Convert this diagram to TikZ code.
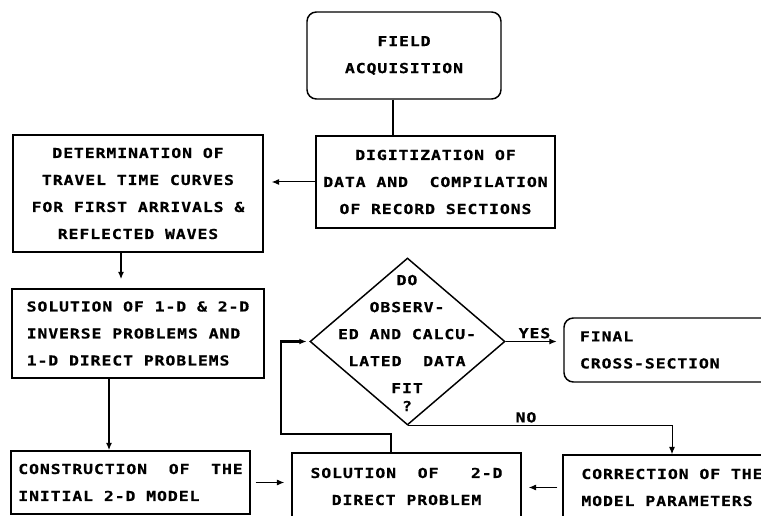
\documentclass[tikz,border=0pt]{standalone}
\usepackage{fontspec}
\newfontfamily\dotfont[FakeStretch=1.2,LetterSpace=6.5,BoldFeatures={FakeBold=0.6}]{DejaVu Sans Mono}
\usetikzlibrary{shapes.geometric,arrows.meta}

\tikzset{every picture/.style={line width=0.75pt}}
\tikzset{
  box/.style={draw, line width=1.1pt, inner ysep=0pt,
    font=\dotfont\bfseries\fontsize{10.3}{20.25}\selectfont},
  decision/.style={draw, diamond, line width=1.1pt, inner sep=0pt},
  txt/.style={align=center, inner sep=0pt,
    font=\dotfont\bfseries\fontsize{10.3}{20.25}\selectfont},
  lbl/.style={inner sep=2pt, font=\dotfont\bfseries\fontsize{10.3}{12}\selectfont},
  arr/.style={-{Latex[length=5.5pt,width=4.5pt]}}
}

\begin{document}
\begin{tikzpicture}[x=0.75pt,y=0.75pt,yscale=-1,xscale=1]
\path[use as bounding box] (0,0) rectangle (761,516);
\clip (0,0) rectangle (761,516);

%Rounded Rect: field acquisition
\node[box, rounded corners=7pt, minimum width=145.5pt, minimum height=65.25pt, align=center] (field) at (404,55.5) {FIELD\\ACQUISITION};
%Rect: digitization
\node[box, minimum width=179.25pt, minimum height=69pt, align=center] (digit) at (435.5,182) {DIGITIZATION OF\\DATA AND\ \ COMPILATION\\OF RECORD SECTIONS};
%Rect: travel time curves
\node[box, minimum width=187.5pt, minimum height=87.75pt, align=center] (determ) at (138,193.5) {DETERMINATION OF\\TRAVEL TIME CURVES\\FOR FIRST ARRIVALS \&\\REFLECTED WAVES};
%Rect: inverse problems
\node[box, minimum width=189pt, minimum height=66.75pt, align=left] (sol1d) at (138,333.5) {SOLUTION OF 1-D \& 2-D\\INVERSE PROBLEMS AND\\1-D DIRECT PROBLEMS};
%Rect: initial model
\node[box, minimum width=179.25pt, minimum height=47.25pt, align=left] (constr) at (130.5,482.5) {CONSTRUCTION\ \ OF\ \ THE\\INITIAL 2-D MODEL};
%Rect: direct problem
\node[box, minimum width=171.75pt, minimum height=50.25pt, align=center] (sol2d) at (406.5,486.5) {SOLUTION\ \ OF\ \ \ 2-D\\DIRECT PROBLEM};
%Rect: correction
\node[box, minimum width=163.5pt, minimum height=48.75pt, align=left] (corr) at (672,487.5) {CORRECTION OF THE\\MODEL PARAMETERS};
%Rounded Rect: final section
\node[box, rounded corners=7pt, text width=156pt, inner xsep=12pt, minimum height=48pt, align=left] (final) at (684,350) {FINAL\\CROSS-SECTION};

%Decision
\node[decision, minimum width=146.25pt, minimum height=125.25pt] (check) at (407.5,341.5) {};
\node[txt] (checktxt) at (407,343) {DO\\OBSERV-\\ED AND CALCU-\\LATED\ \ DATA\\FIT\\[-6.75pt]?};

%Connectors
\draw[line width=2.2pt] ([xshift=-8.25pt]field.south) -- ([xshift=-8.25pt]field.south |- digit.north);
\draw[arr, shorten >=6pt] (digit.west) -- (digit.west -| determ.east);
\draw[arr, line width=2.2pt, shorten >=6.75pt] ([xshift=-12.75pt]determ.south) -- ([xshift=-12.75pt]determ.south |- sol1d.north);
\draw[arr, line width=1.8pt] ([xshift=-21.75pt]sol1d.south) -- ([xshift=-21.75pt]sol1d.south |- constr.north);
\draw[arr, shorten <=3.75pt, shorten >=5.25pt] (constr.east) -- (constr.east -| sol2d.west);
\draw[arr, shorten <=3.75pt, shorten >=5.25pt] (corr.west) -- (corr.west -| sol2d.east);
\draw[arr, shorten >=5pt] (check.east) -- node[lbl, above] {YES} (check.east -| final.west);
\draw[arr] (check.south) -| node[lbl, pos=0.224, above] {NO} (corr.north);

\coordinate (loopcorner) at (281,434);
\draw[arr, line width=1.8pt, shorten >=2pt] ([xshift=-11.6pt]sol2d.north) |- (loopcorner) |- (check.west);

\end{tikzpicture}
\end{document}
